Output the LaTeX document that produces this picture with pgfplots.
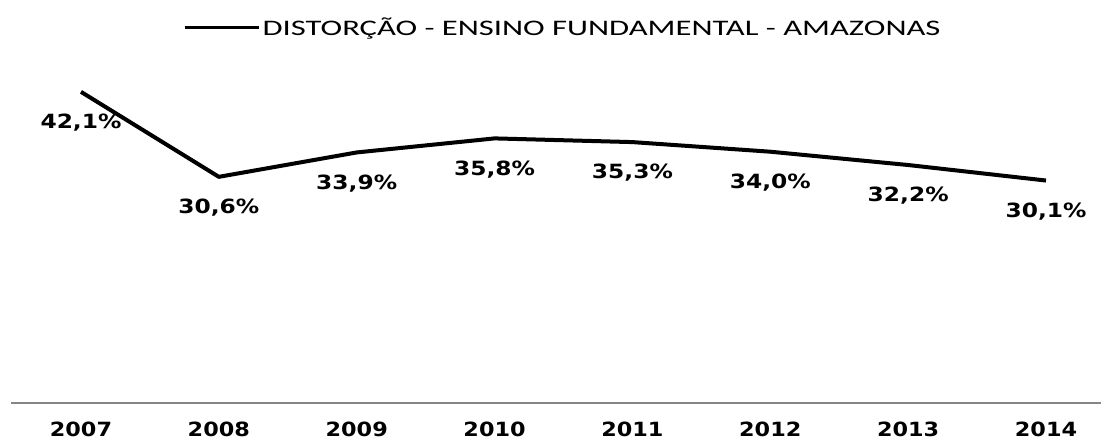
\documentclass[border=0pt]{standalone}
\usepackage{fontspec}
\usepackage{pgfplots}
\usepackage{pgfplotstable}
\pgfplotsset{compat=1.18}
\setmainfont{Carlito}
\newfontfamily\legfont{Carlito}[FakeStretch=1.47]
\newfontfamily\labfont{DejaVu Sans}[FakeStretch=1.19]
\newfontfamily\yearfont{DejaVu Sans}[FakeStretch=1.14]
\definecolor{axgray}{HTML}{868686}
\pgfplotstableread{
year val lab
2007 42.1 {42,1\%}
2008 30.6 {30,6\%}
2009 33.9 {33,9\%}
2010 35.8 {35,8\%}
2011 35.3 {35,3\%}
2012 34.0 {34,0\%}
2013 32.2 {32,2\%}
2014 30.1 {30,1\%}
}\datatable
\begin{document}
\begin{tikzpicture}
\useasboundingbox (-5.5pt,-18.5pt) rectangle (545pt,201.5pt);
\begin{axis}[
  at={(0,0)}, anchor=south west,
  scale only axis, width=545pt, height=166.3pt,
  xmin=2006.4924, xmax=2014.399, ymin=0, ymax=45,
  axis x line*=bottom, axis y line=none,
  x axis line style={draw=axgray, line width=1pt},
  xtick={2007,2008,2009,2010,2011,2012,2013,2014},
  xticklabels={2007,2008,2009,2010,2011,2012,2013,2014},
  major tick length=0pt,
  xticklabel style={anchor=center, yshift=-13pt, font=\fontsize{9.8}{11}\yearfont\bfseries},
  clip=false,
  legend style={draw=none, fill=none, at={(axis description cs:0.158,1.1275)}, anchor=west,
    inner sep=0pt, outer sep=0pt, font=\fontsize{11.1}{13}\legfont,
    nodes={inner sep=1.2pt}},
  legend image code/.code={\draw[line width=1.5pt] (0pt,0pt) -- (37pt,0pt);},
]
\addplot[black, line width=2pt, line join=round, mark=none,
  point meta=explicit symbolic,
  nodes near coords,
  every node near coord/.append style={anchor=center, yshift=-15.5pt, text=black,
    font=\fontsize{9.8}{11}\labfont\bfseries}]
  table[x=year, y=val, meta=lab] {\datatable};
\addlegendentry{DISTORÇÃO - ENSINO FUNDAMENTAL - AMAZONAS}
\end{axis}
\end{tikzpicture}
\end{document}
